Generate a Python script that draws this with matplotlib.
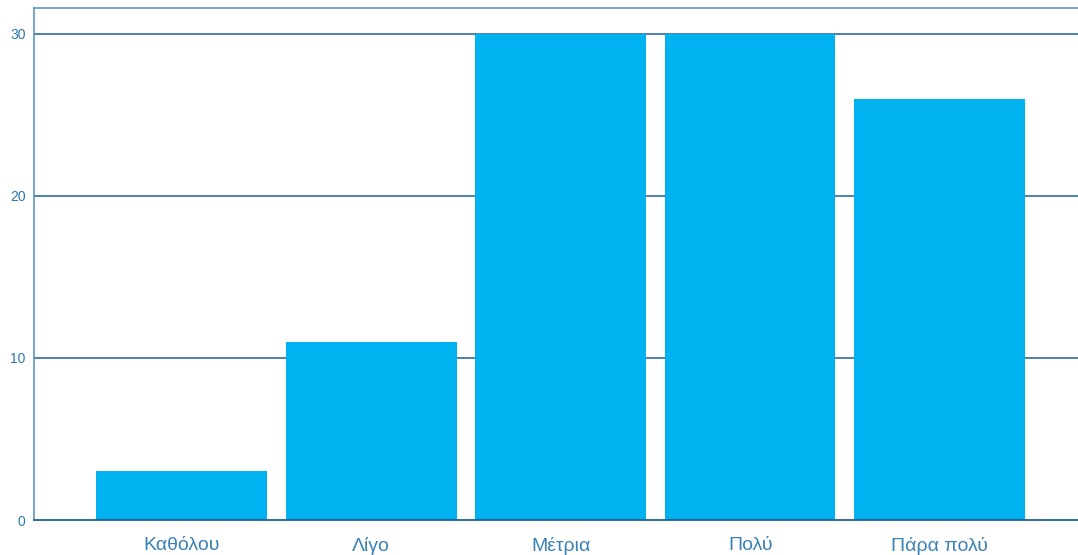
import numpy as np
import matplotlib.pyplot as plt

categories = ["Καθόλου", "Λίγο", "Μέτρια", "Πολύ", "Πάρα πολύ"]
counts = [3, 11, 30, 30, 26]
yticks = [0, 10, 20, 30]

plt.rcParams['font.family'] = ['Liberation Sans', 'DejaVu Sans']

fig = plt.figure(figsize=(10.78, 5.55), dpi=100)
ax = fig.add_axes([0.0315, 0.063, 0.9685, 0.9226])

x = np.arange(len(categories))
ax.bar(x, counts, width=0.9, color="#00b2f0", zorder=2)

ax.set_xlim(-0.78, 4.73)
ax.set_ylim(0, 31.6)
ax.set_yticks(yticks)
ax.set_xticks(x)
ax.set_xticklabels(categories, fontsize=14, color="#3a82b5")
ax.tick_params(axis="y", labelsize=10, colors="#2f78ad", length=0, pad=6)
ax.tick_params(axis="x", length=0, pad=12)

for y in yticks[1:]:
    ax.axhline(y, color="#1d5f94", lw=1.1, zorder=1)

for s in ["left", "top"]:
    ax.spines[s].set_color("#5b98c2")
    ax.spines[s].set_linewidth(1.2)
ax.spines["bottom"].set_color("#1d5f94")
ax.spines["bottom"].set_linewidth(1.3)
ax.spines["right"].set_visible(False)

fig.savefig("out.png", dpi=100)
